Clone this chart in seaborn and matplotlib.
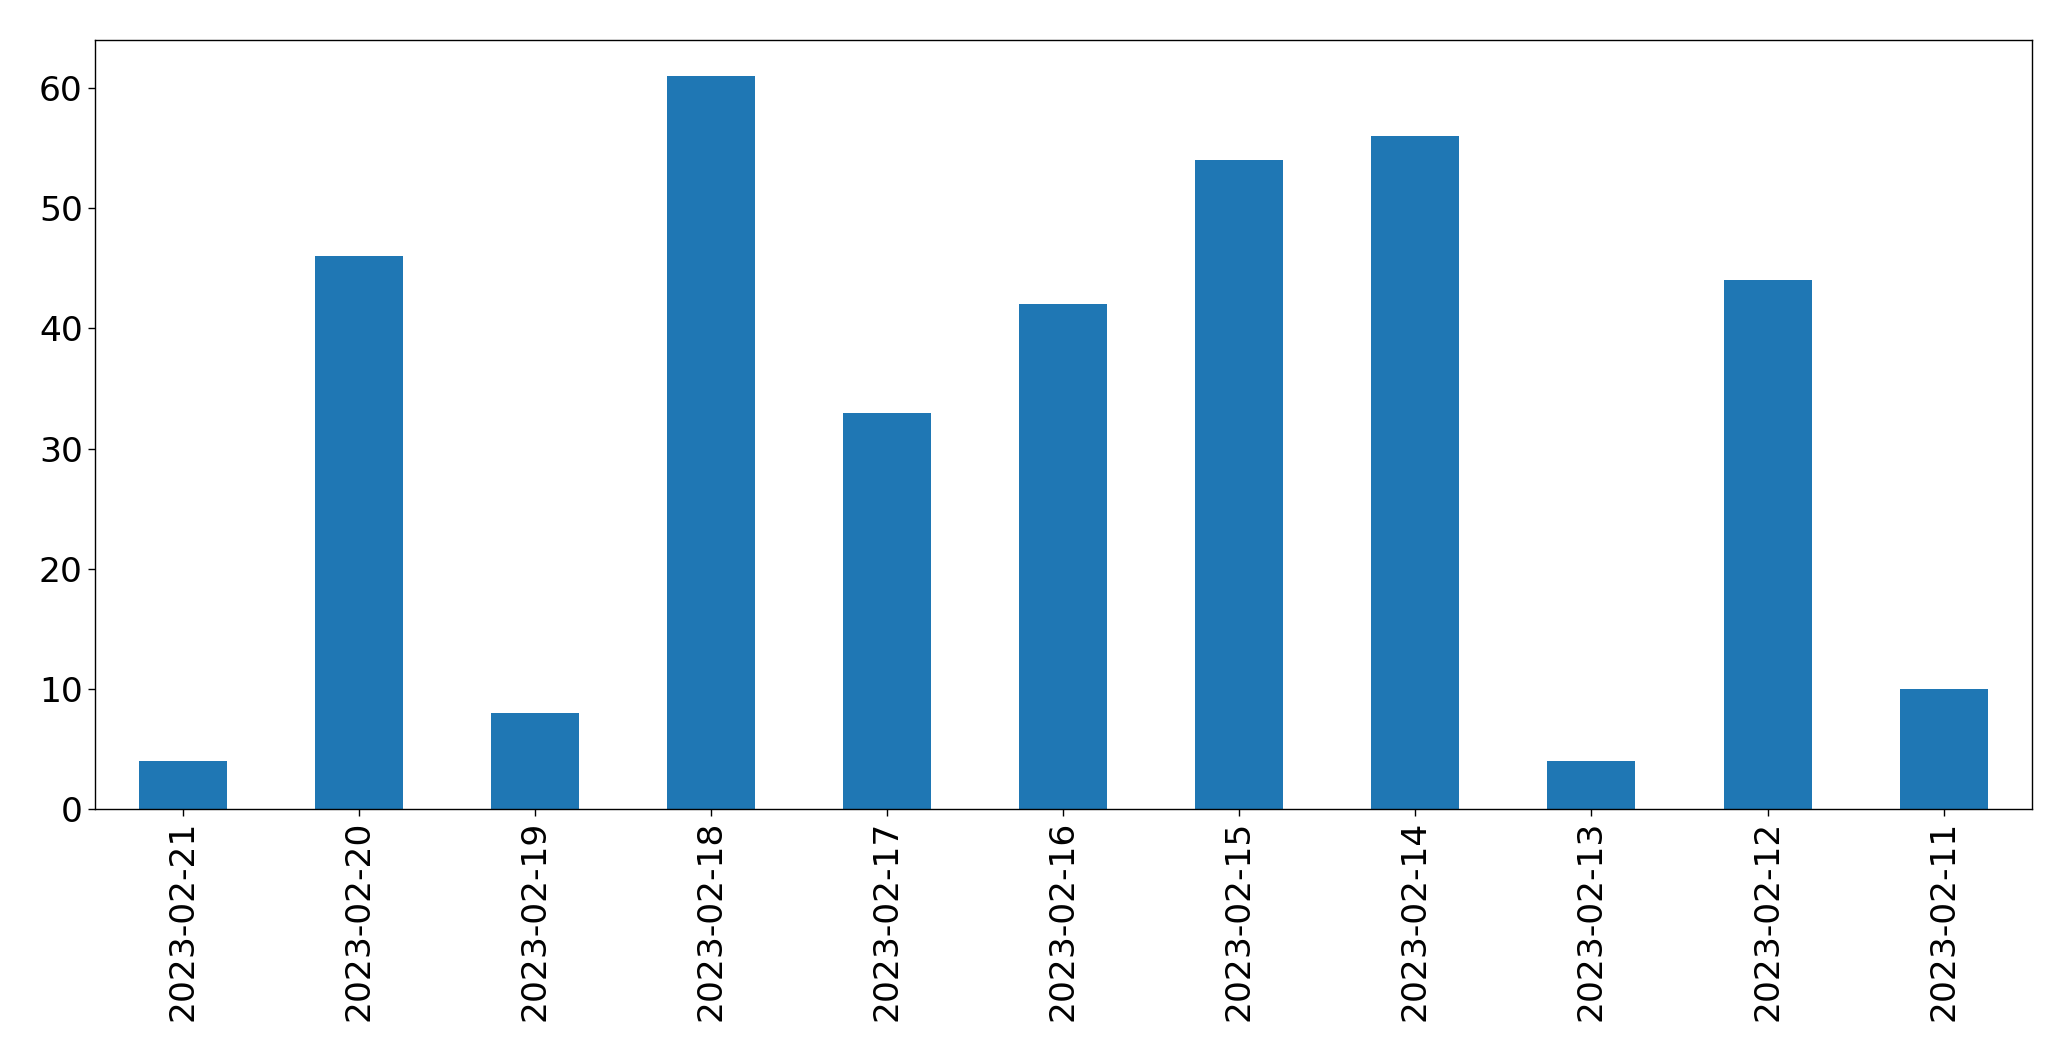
import matplotlib
matplotlib.use("Agg")
import matplotlib.pyplot as plt
import seaborn as sns
import pandas as pd

dates = ["2023-02-21", "2023-02-20", "2023-02-19", "2023-02-18", "2023-02-17",
         "2023-02-16", "2023-02-15", "2023-02-14", "2023-02-13", "2023-02-12",
         "2023-02-11"]
counts = [4, 46, 8, 61, 33, 42, 54, 56, 4, 44, 10]

df = pd.DataFrame({"date": dates, "count": counts})

sns.set_style("white")
plt.rcParams["font.family"] = ["DejaVu Sans"]

fig = plt.figure(figsize=(20.71, 10.61), dpi=100)
ax = fig.add_axes([94.5 / 2071, 1 - 809 / 1061, (2031.7 - 94.5) / 2071, (809 - 39.5) / 1061])

sns.barplot(data=df, x="date", y="count", order=dates, color="#1f77b4",
            saturation=1, width=0.5, linewidth=0, ax=ax)

ax.set_xlim(-0.5, len(dates) - 0.5)
ax.set_ylim(0, max(counts) * 1.05)
ax.set_xlabel("")
ax.set_ylabel("")
ax.tick_params(axis="both", labelsize=24.8, length=5, width=1, direction="out",
               color="black", labelcolor="black", bottom=True, left=True)
plt.setp(ax.get_xticklabels(), rotation=90)
for s in ax.spines.values():
    s.set_visible(True)
    s.set_color("black")
    s.set_linewidth(1)

fig.savefig("out.png", dpi=100)
